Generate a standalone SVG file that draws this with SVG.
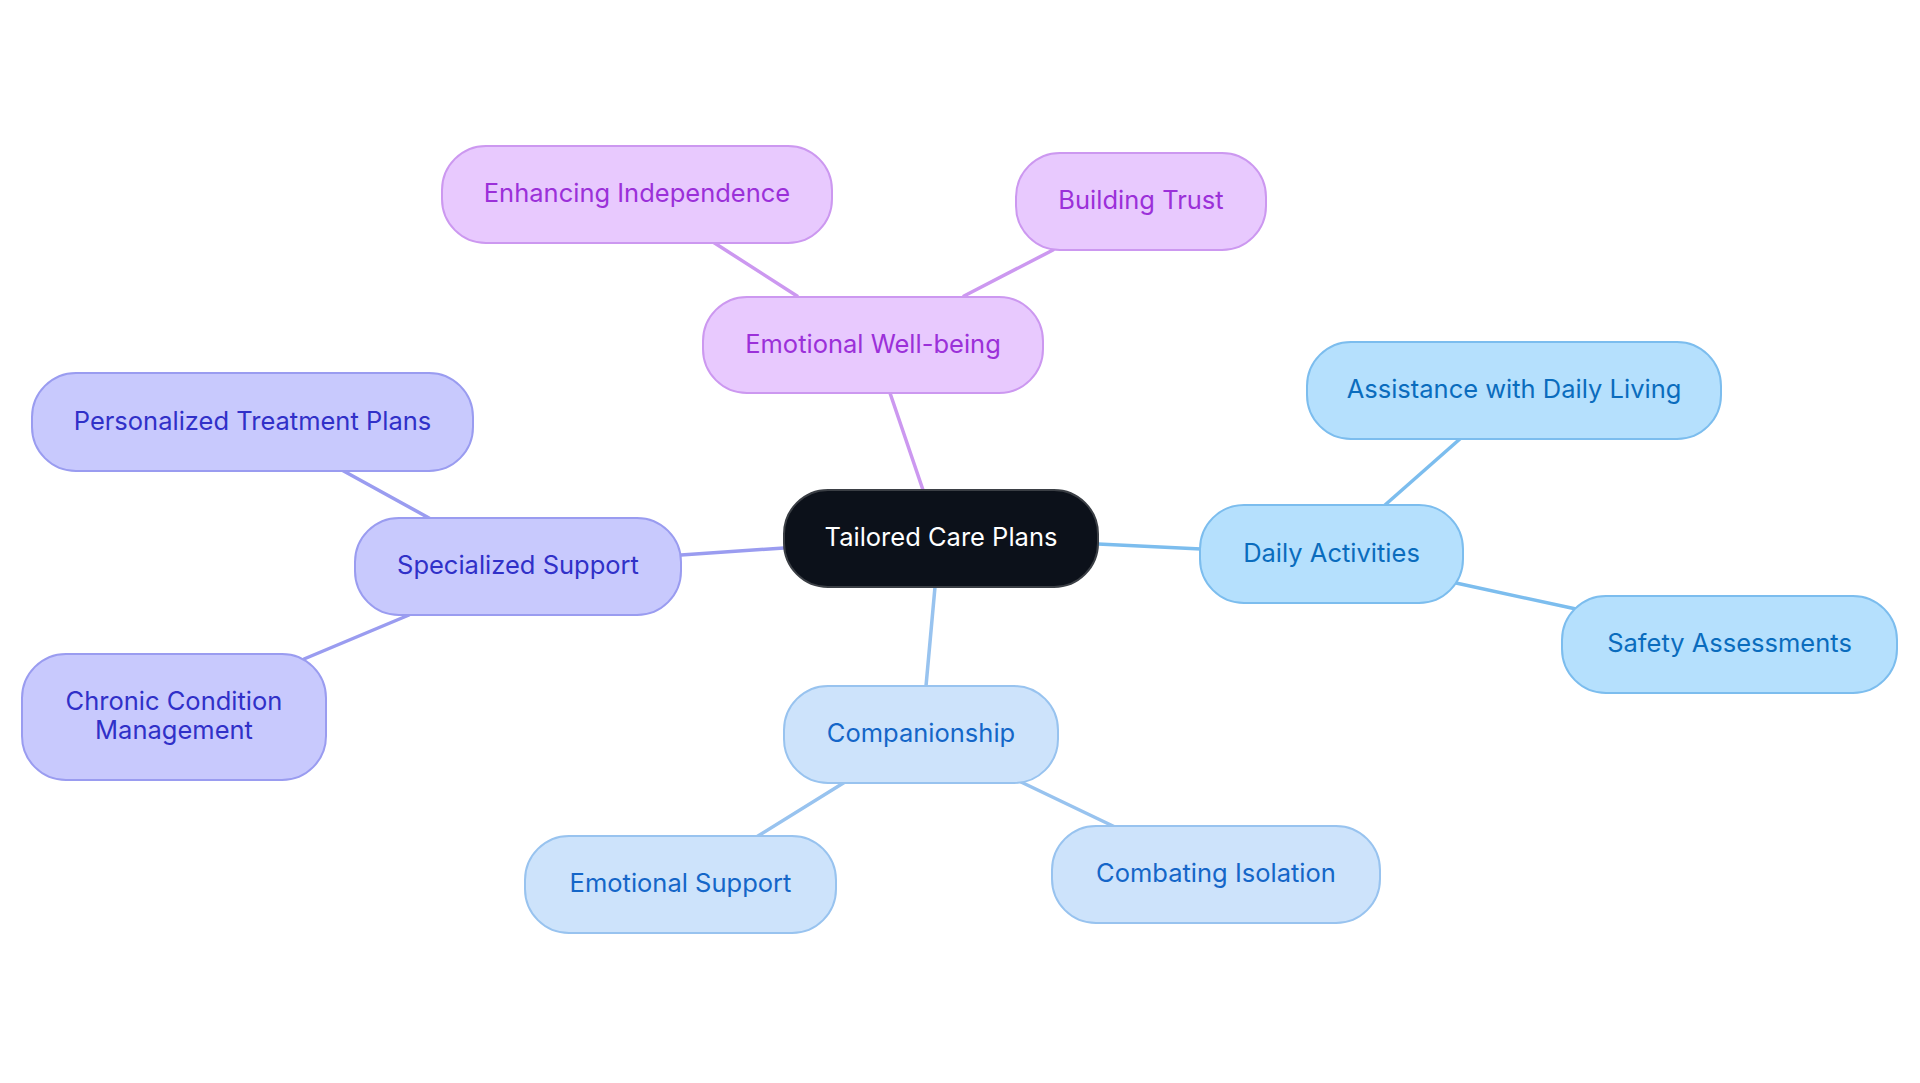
<svg xmlns="http://www.w3.org/2000/svg" width="1920" height="1083" viewBox="0 0 1920 1083">
<style>
text{font-family:Inter,"Noto Sans","Liberation Sans",sans-serif;font-size:25.5px;text-anchor:middle;dominant-baseline:central}
.root rect{fill:#0c111a;stroke:#3b3f45;stroke-width:2}
.root text{fill:#ffffff}
.pur rect{fill:#e8c9fe;stroke:#cc98f0;stroke-width:2}
.pur text{fill:#9b30d9}
.ind rect{fill:#c8c9fd;stroke:#9a9cf0;stroke-width:2}
.ind text{fill:#3030c8}
.sky rect{fill:#b5e0fd;stroke:#7cbdee;stroke-width:2}
.sky text{fill:#0a6cbd}
.lb rect{fill:#cde3fb;stroke:#98c3ef;stroke-width:2}
.lb text{fill:#1466c8}
#edges line{stroke-width:3.5;stroke-linecap:round}
.ep{stroke:#cc98f0}.ei{stroke:#9a9cf0}.es{stroke:#7cbdee}.el{stroke:#98c3ef}
</style>
<rect width="1920" height="1083" fill="#ffffff"/>
<g id="edges">
<line class="ep" x1="923" y1="490" x2="890" y2="393"/>
<line class="ep" x1="713" y1="242" x2="797" y2="296"/>
<line class="ep" x1="1053" y1="250" x2="964" y2="296"/>
<line class="ei" x1="784" y1="548" x2="681" y2="555"/>
<line class="ei" x1="340" y1="469" x2="429" y2="518"/>
<line class="ei" x1="304" y1="659" x2="409" y2="615"/>
<line class="el" x1="935" y1="587" x2="926" y2="686"/>
<line class="el" x1="845" y1="782" x2="758" y2="836"/>
<line class="el" x1="1021" y1="782" x2="1115" y2="827"/>
<line class="es" x1="1098" y1="544" x2="1201" y2="549"/>
<line class="es" x1="1385" y1="505" x2="1461" y2="438"/>
<line class="es" x1="1456" y1="583" x2="1576" y2="609"/>
</g>
<g id="n-root" class="root"><rect x="784" y="490" width="314" height="97" rx="44"/><text x="941" y="536.5">Tailored Care Plans</text></g>
<g id="n-emo" class="pur"><rect x="703" y="297" width="340" height="96" rx="44"/><text x="873" y="343">Emotional Well-being</text></g>
<g id="n-ind" class="pur"><rect x="442" y="146" width="390" height="97" rx="44"/><text x="637" y="192.5">Enhancing Independence</text></g>
<g id="n-trust" class="pur"><rect x="1016" y="153" width="250" height="97" rx="44"/><text x="1141" y="199.5">Building Trust</text></g>
<g id="n-spec" class="ind"><rect x="355" y="518" width="326" height="97" rx="44"/><text x="518" y="564.5">Specialized Support</text></g>
<g id="n-pers" class="ind"><rect x="32" y="373" width="441" height="98" rx="44"/><text x="252.5" y="420">Personalized Treatment Plans</text></g>
<g id="n-chron" class="ind"><rect x="22" y="654" width="304" height="126" rx="44"/><text x="174" y="700">Chronic Condition</text><text x="174" y="729.5">Management</text></g>
<g id="n-comp" class="lb"><rect x="784" y="686" width="274" height="97" rx="44"/><text x="921" y="732.5">Companionship</text></g>
<g id="n-esup" class="lb"><rect x="525" y="836" width="311" height="97" rx="44"/><text x="680.5" y="882.5">Emotional Support</text></g>
<g id="n-iso" class="lb"><rect x="1052" y="826" width="328" height="97" rx="44"/><text x="1216" y="872.5">Combating Isolation</text></g>
<g id="n-daily" class="sky"><rect x="1200" y="505" width="263" height="98" rx="44"/><text x="1331.5" y="552">Daily Activities</text></g>
<g id="n-assist" class="sky"><rect x="1307" y="342" width="414" height="97" rx="44"/><text x="1514" y="388.5">Assistance with Daily Living</text></g>
<g id="n-safe" class="sky"><rect x="1562" y="596" width="335" height="97" rx="44"/><text x="1729.5" y="642.5">Safety Assessments</text></g>
</svg>
